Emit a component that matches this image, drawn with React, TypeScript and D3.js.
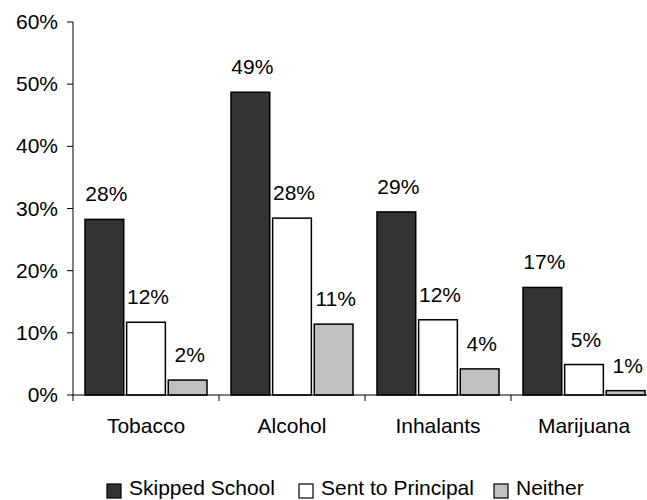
import React, { useEffect, useRef } from 'react'
import * as d3 from 'd3'

const categories = ['Tobacco', 'Alcohol', 'Inhalants', 'Marijuana']
const seriesNames = ['Skipped School', 'Sent to Principal', 'Neither']
const skippedSchool = [28.25, 48.7, 29.45, 17.3]
const sentToPrincipal = [11.7, 28.45, 12.1, 4.9]
const neither = [2.4, 11.4, 4.2, 0.7]
const yTicks = [0, 10, 20, 30, 40, 50, 60]
const colors = ['#333333', '#ffffff', '#c0c0c0']

const App = () => {
    const ref = useRef<SVGSVGElement>(null)

    useEffect(() => {
        draw()
    }, [])

    const draw = () => {
        const width = 647
        const height = 500
        const font = 'Arial, "Liberation Sans", sans-serif'
        const series = [skippedSchool, sentToPrincipal, neither]

        const svg = d3.select(ref.current)
        svg.selectAll('*').remove()
        svg.attr('width', width).attr('height', height)

        // scales
        const x0 = d3.scaleBand().domain(categories).range([73, 657]).padding(0)
        const x1 = d3.scaleBand().domain(seriesNames).range([12, 134]).paddingInner(0.07)
        const y = d3.scaleLinear().domain([0, 60]).range([395, 22])

        // bars
        categories.forEach((c, ci) => {
            const g = svg.append('g').attr('transform', `translate(${x0(c)},0)`)
            seriesNames.forEach((s, si) => {
                const v = series[si][ci]
                g.append('rect')
                    .attr('x', x1(s) || 0)
                    .attr('y', y(v))
                    .attr('width', x1.bandwidth())
                    .attr('height', y(0) - y(v))
                    .attr('fill', colors[si])
                    .attr('stroke', '#000')
                    .attr('stroke-width', 1.5)
                g.append('text')
                    .attr('x', (x1(s) || 0) + x1.bandwidth() / 2 + 2)
                    .attr('y', y(v) - 18)
                    .attr('text-anchor', 'middle')
                    .attr('font-family', font)
                    .attr('font-size', 21)
                    .text(Math.round(v) + '%')
            })
        })

        // y axis
        const yAxis = svg.append('g')
        yAxis.append('line')
            .attr('x1', 73).attr('x2', 73)
            .attr('y1', y(60)).attr('y2', y(0) + 6)
            .attr('stroke', '#000')
        yTicks.forEach((t) => {
            yAxis.append('line')
                .attr('x1', 67).attr('x2', 73)
                .attr('y1', y(t)).attr('y2', y(t))
                .attr('stroke', '#000')
            yAxis.append('text')
                .attr('x', 58)
                .attr('y', y(t) + 7)
                .attr('text-anchor', 'end')
                .attr('font-family', font)
                .attr('font-size', 21)
                .text(t + '%')
        })

        // x axis
        const xAxis = svg.append('g')
        xAxis.append('line')
            .attr('x1', 73).attr('x2', 657)
            .attr('y1', y(0)).attr('y2', y(0))
            .attr('stroke', '#000')
        categories.forEach((c) => {
            const cx = x0(c) || 0
            xAxis.append('line')
                .attr('x1', cx + x0.bandwidth()).attr('x2', cx + x0.bandwidth())
                .attr('y1', y(0)).attr('y2', y(0) + 6)
                .attr('stroke', '#000')
            xAxis.append('text')
                .attr('x', cx + x0.bandwidth() / 2)
                .attr('y', 433)
                .attr('text-anchor', 'middle')
                .attr('font-family', font)
                .attr('font-size', 21)
                .text(c)
        })

        // legend
        const legendX = [107, 299, 494]
        seriesNames.forEach((s, si) => {
            const lg = svg.append('g').attr('transform', `translate(${legendX[si]},0)`)
            lg.append('rect')
                .attr('x', 0).attr('y', 484)
                .attr('width', 14).attr('height', 14)
                .attr('fill', colors[si])
                .attr('stroke', '#000')
                .attr('stroke-width', 1.2)
            lg.append('text')
                .attr('x', 22)
                .attr('y', 495)
                .attr('font-family', font)
                .attr('font-size', 21)
                .text(s)
        })
    }

    return (
        <svg ref={ref} style={{ position: 'absolute', left: 0, top: 0, background: '#fff' }}></svg>
    )
}

export default App
